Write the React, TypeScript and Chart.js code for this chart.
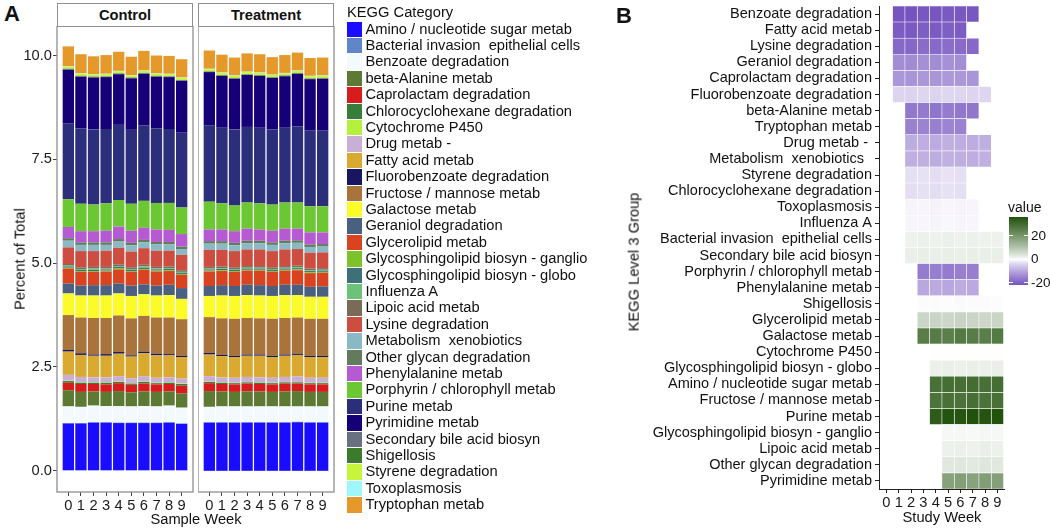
import React, { useEffect, useRef } from "react";
import { Chart, registerables } from "chart.js";

Chart.register(...registerables);

const FONT = '"Liberation Sans", Arial, Helvetica, sans-serif';

const weeks = [0, 1, 2, 3, 4, 5, 6, 7, 8, 9];
const yTicks = [0, 2.5, 5, 7.5, 10];

const categories = [
  "Amino / nucleotide sugar metab",
  "Bacterial invasion  epithelial cells",
  "Benzoate degradation",
  "beta-Alanine metab",
  "Caprolactam degradation",
  "Chlorocyclohexane degradation",
  "Cytochrome P450",
  "Drug metab - ",
  "Fatty acid metab",
  "Fluorobenzoate degradation",
  "Fructose / mannose metab",
  "Galactose metab",
  "Geraniol degradation",
  "Glycerolipid metab",
  "Glycosphingolipid biosyn - ganglio",
  "Glycosphingolipid biosyn - globo",
  "Influenza A",
  "Lipoic acid metab",
  "Lysine degradation",
  "Metabolism  xenobiotics  ",
  "Other glycan degradation",
  "Phenylalanine metab",
  "Porphyrin / chlorophyll metab",
  "Purine metab",
  "Pyrimidine metab",
  "Secondary bile acid biosyn",
  "Shigellosis",
  "Styrene degradation",
  "Toxoplasmosis",
  "Tryptophan metab",
];

const categoryColors = [
  "#1a0dff", "#5f86c8", "#f2fafd", "#5d7a35", "#d81b1b", "#387d3a",
  "#b5f03c", "#c9afd6", "#daaa30", "#191660", "#a9743b", "#fbfb2a",
  "#4a6080", "#d9431f", "#7cc22b", "#3d7079", "#6dc27a", "#7a6b56",
  "#cd4e40", "#8ab9c6", "#637a5c", "#b55ad2", "#6bc832", "#2b2e7a",
  "#150078", "#687082", "#3c7a2c", "#c6f53c", "#9ef8fa", "#e6992b",
];

// Percent of total per category (legend order), weeks 0..9
const controlValues = [
  [1.14, 1.14, 1.16, 1.16, 1.15, 1.15, 1.15, 1.15, 1.16, 1.13],
  [0.01, 0.01, 0.01, 0.01, 0.01, 0.01, 0.01, 0.01, 0.01, 0.01],
  [0.40, 0.39, 0.40, 0.39, 0.40, 0.39, 0.40, 0.39, 0.40, 0.38],
  [0.39, 0.36, 0.34, 0.34, 0.36, 0.34, 0.35, 0.35, 0.34, 0.34],
  [0.18, 0.19, 0.18, 0.18, 0.19, 0.18, 0.19, 0.18, 0.18, 0.19],
  [0.04, 0.03, 0.03, 0.04, 0.03, 0.03, 0.04, 0.03, 0.03, 0.04],
  [0.01, 0.01, 0.01, 0.01, 0.01, 0.01, 0.01, 0.01, 0.01, 0.01],
  [0.14, 0.13, 0.12, 0.12, 0.13, 0.12, 0.13, 0.12, 0.12, 0.12],
  [0.56, 0.53, 0.52, 0.52, 0.54, 0.52, 0.55, 0.54, 0.53, 0.52],
  [0.04, 0.04, 0.03, 0.04, 0.04, 0.03, 0.04, 0.04, 0.03, 0.03],
  [0.84, 0.86, 0.88, 0.87, 0.88, 0.89, 0.86, 0.87, 0.88, 0.88],
  [0.52, 0.53, 0.54, 0.54, 0.53, 0.54, 0.52, 0.53, 0.54, 0.49],
  [0.24, 0.24, 0.25, 0.25, 0.24, 0.25, 0.24, 0.24, 0.25, 0.26],
  [0.36, 0.33, 0.32, 0.33, 0.34, 0.33, 0.35, 0.34, 0.33, 0.32],
  [0.02, 0.02, 0.02, 0.02, 0.03, 0.02, 0.02, 0.02, 0.02, 0.02],
  [0.03, 0.03, 0.03, 0.03, 0.03, 0.03, 0.03, 0.03, 0.03, 0.03],
  [0.02, 0.02, 0.03, 0.02, 0.02, 0.02, 0.03, 0.02, 0.02, 0.02],
  [0.04, 0.04, 0.04, 0.04, 0.04, 0.04, 0.04, 0.04, 0.04, 0.04],
  [0.40, 0.39, 0.38, 0.39, 0.40, 0.38, 0.40, 0.39, 0.38, 0.37],
  [0.16, 0.15, 0.15, 0.14, 0.15, 0.15, 0.14, 0.15, 0.15, 0.14],
  [0.06, 0.06, 0.06, 0.06, 0.06, 0.06, 0.06, 0.06, 0.06, 0.06],
  [0.27, 0.27, 0.27, 0.28, 0.30, 0.29, 0.29, 0.30, 0.29, 0.30],
  [0.67, 0.66, 0.64, 0.66, 0.64, 0.65, 0.65, 0.64, 0.65, 0.64],
  [1.83, 1.81, 1.81, 1.79, 1.81, 1.78, 1.82, 1.80, 1.78, 1.80],
  [1.29, 1.25, 1.25, 1.25, 1.22, 1.24, 1.24, 1.24, 1.25, 1.25],
  [0.01, 0.01, 0.01, 0.01, 0.01, 0.01, 0.01, 0.01, 0.01, 0.01],
  [0.01, 0.01, 0.01, 0.01, 0.01, 0.01, 0.01, 0.01, 0.01, 0.01],
  [0.05, 0.05, 0.05, 0.05, 0.05, 0.05, 0.05, 0.05, 0.05, 0.05],
  [0.01, 0.01, 0.01, 0.01, 0.01, 0.01, 0.01, 0.01, 0.01, 0.01],
  [0.48, 0.46, 0.43, 0.45, 0.46, 0.44, 0.47, 0.43, 0.43, 0.44],
];

const treatmentValues = [
  [1.16, 1.16, 1.16, 1.16, 1.16, 1.16, 1.16, 1.17, 1.16, 1.16],
  [0.01, 0.01, 0.01, 0.01, 0.01, 0.01, 0.01, 0.01, 0.01, 0.01],
  [0.37, 0.38, 0.38, 0.38, 0.38, 0.38, 0.38, 0.37, 0.38, 0.38],
  [0.38, 0.36, 0.35, 0.36, 0.36, 0.35, 0.36, 0.37, 0.35, 0.35],
  [0.19, 0.18, 0.18, 0.19, 0.18, 0.18, 0.19, 0.18, 0.18, 0.18],
  [0.03, 0.03, 0.03, 0.03, 0.03, 0.03, 0.03, 0.03, 0.03, 0.03],
  [0.01, 0.01, 0.01, 0.01, 0.01, 0.01, 0.01, 0.01, 0.01, 0.01],
  [0.13, 0.12, 0.12, 0.12, 0.12, 0.12, 0.12, 0.13, 0.12, 0.12],
  [0.52, 0.51, 0.50, 0.51, 0.52, 0.50, 0.51, 0.52, 0.50, 0.50],
  [0.04, 0.03, 0.03, 0.03, 0.03, 0.03, 0.03, 0.03, 0.03, 0.03],
  [0.86, 0.88, 0.89, 0.88, 0.87, 0.89, 0.88, 0.87, 0.89, 0.89],
  [0.51, 0.55, 0.55, 0.55, 0.55, 0.55, 0.55, 0.54, 0.53, 0.53],
  [0.24, 0.25, 0.24, 0.25, 0.25, 0.24, 0.25, 0.25, 0.24, 0.25],
  [0.35, 0.34, 0.34, 0.34, 0.35, 0.34, 0.34, 0.35, 0.33, 0.33],
  [0.02, 0.02, 0.02, 0.02, 0.02, 0.02, 0.02, 0.02, 0.02, 0.02],
  [0.03, 0.03, 0.03, 0.03, 0.03, 0.03, 0.03, 0.03, 0.03, 0.03],
  [0.02, 0.02, 0.02, 0.02, 0.02, 0.02, 0.02, 0.02, 0.02, 0.02],
  [0.04, 0.04, 0.04, 0.04, 0.04, 0.04, 0.04, 0.04, 0.04, 0.04],
  [0.41, 0.40, 0.39, 0.40, 0.40, 0.39, 0.40, 0.40, 0.38, 0.38],
  [0.15, 0.15, 0.14, 0.15, 0.15, 0.15, 0.15, 0.15, 0.14, 0.14],
  [0.06, 0.06, 0.06, 0.06, 0.06, 0.06, 0.06, 0.06, 0.06, 0.06],
  [0.28, 0.28, 0.28, 0.29, 0.27, 0.28, 0.29, 0.28, 0.29, 0.28],
  [0.67, 0.63, 0.62, 0.63, 0.63, 0.63, 0.63, 0.63, 0.63, 0.63],
  [1.83, 1.82, 1.83, 1.82, 1.82, 1.81, 1.80, 1.83, 1.82, 1.82],
  [1.29, 1.25, 1.22, 1.25, 1.25, 1.24, 1.24, 1.27, 1.24, 1.25],
  [0.01, 0.01, 0.01, 0.01, 0.01, 0.01, 0.01, 0.01, 0.01, 0.01],
  [0.01, 0.01, 0.01, 0.01, 0.01, 0.01, 0.01, 0.01, 0.01, 0.01],
  [0.05, 0.05, 0.05, 0.05, 0.05, 0.05, 0.05, 0.05, 0.05, 0.05],
  [0.01, 0.01, 0.01, 0.01, 0.01, 0.01, 0.01, 0.01, 0.01, 0.01],
  [0.44, 0.43, 0.43, 0.44, 0.44, 0.42, 0.43, 0.43, 0.43, 0.43],
];

const heatRows = [
  "Benzoate degradation",
  "Fatty acid metab",
  "Lysine degradation",
  "Geraniol degradation",
  "Caprolactam degradation",
  "Fluorobenzoate degradation",
  "beta-Alanine metab",
  "Tryptophan metab",
  "Drug metab - ",
  "Metabolism  xenobiotics  ",
  "Styrene degradation",
  "Chlorocyclohexane degradation",
  "Toxoplasmosis",
  "Influenza A",
  "Bacterial invasion  epithelial cells",
  "Secondary bile acid biosyn",
  "Porphyrin / chlorophyll metab",
  "Phenylalanine metab",
  "Shigellosis",
  "Glycerolipid metab",
  "Galactose metab",
  "Cytochrome P450",
  "Glycosphingolipid biosyn - globo",
  "Amino / nucleotide sugar metab",
  "Fructose / mannose metab",
  "Purine metab",
  "Glycosphingolipid biosyn - ganglio",
  "Lipoic acid metab",
  "Other glycan degradation",
  "Pyrimidine metab",
];

const _ = null;
// value per row, weeks 0..9 (null = no tile)
const heatValues: (number | null)[][] = [
  [_, -21.5, -21.7, -21.2, -21.4, -20.8, -21.0, -21.3, _, _],
  [_, -20.5, -20.8, -20.2, -20.6, -20.0, -20.4, _, _, _],
  [_, -18.6, -18.9, -18.2, -18.5, -18.0, -18.3, -18.7, _, _],
  [_, -13.5, -13.8, -13.2, -13.6, -13.0, -13.4, _, _, _],
  [_, -12.2, -12.5, -11.9, -12.3, -11.8, -12.0, -12.4, _, _],
  [_, -4.2, -4.4, -4.0, -4.3, -3.9, -4.1, -4.2, -4.0, _],
  [_, _, -16.5, -16.2, -16.8, -16.0, -16.4, -16.6, _, _],
  [_, _, -15.2, -14.9, -15.4, -14.7, -15.0, _, _, _],
  [_, _, -9.2, -9.0, -9.4, -8.8, -9.1, -9.3, -8.9, _],
  [_, _, -9.0, -8.8, -9.2, -8.6, -8.9, -9.1, -8.7, _],
  [_, _, -3.0, -2.8, -3.2, -2.7, -3.0, _, _, _],
  [_, _, -3.1, -2.9, -3.3, -2.8, -3.0, _, _, _],
  [_, _, -0.9, -0.8, -1.0, -0.7, -0.9, -0.8, _, _],
  [_, _, -0.8, -0.7, -0.9, -0.6, -0.8, -0.7, _, _],
  [_, _, 1.8, 1.9, 1.7, 2.0, 1.8, 1.9, 1.7, 1.8],
  [_, _, 2.2, 2.3, 2.1, 2.4, 2.2, 2.3, 2.1, 2.2],
  [_, _, _, -15.8, -15.5, -16.0, -15.3, -15.6, _, _],
  [_, _, _, -9.8, -9.5, -10.0, -9.3, -9.6, _, _],
  [_, _, _, 0.4, 0.4, 0.3, 0.5, 0.4, 0.4, 0.3],
  [_, _, _, 6.5, 6.8, 6.3, 6.9, 6.6, 6.4, 6.7],
  [_, _, _, 25.5, 26.0, 25.2, 26.3, 25.8, 25.4, 26.1],
  [_, _, _, _, 0.1, 0.1, 0.1, 0.1, 0.1, 0.1],
  [_, _, _, _, 2.0, 2.1, 1.9, 2.2, 2.0, 2.1],
  [_, _, _, _, 28.5, 29.0, 28.8, 29.3, 28.6, 29.1],
  [_, _, _, _, 28.0, 28.4, 28.2, 28.8, 28.1, 28.5],
  [_, _, _, _, 33.5, 35.2, 35.0, 35.8, 35.3, 35.6],
  [_, _, _, _, _, 0.8, 0.9, 0.7, 0.9, 0.8],
  [_, _, _, _, _, 1.9, 2.0, 1.8, 2.1, 1.9],
  [_, _, _, _, _, 3.3, 3.5, 3.2, 3.6, 3.4],
  [_, _, _, _, _, 17.5, 18.0, 17.3, 18.2, 17.8],
];

const colorbarTicks = [20, 0, -20];
const HEAT_MIN = -21.7;
const HEAT_MAX = 35.8;
const LOW_RGB = [117, 84, 191];
const HIGH_RGB = [33, 82, 12];

function heatColor(v: number): string {
  const target = v >= 0 ? HIGH_RGB : LOW_RGB;
  const lim = v >= 0 ? HEAT_MAX : -HEAT_MIN;
  const t = Math.pow(Math.min(Math.abs(v) / lim, 1), 0.85);
  const c = target.map((ch) => Math.round(255 + (ch - 255) * t));
  return `rgb(${c[0]},${c[1]},${c[2]})`;
}

const panelBorder = {
  id: "panelBorder",
  afterDatasetsDraw(chart: any) {
    const { ctx, chartArea: a } = chart;
    ctx.save();
    ctx.strokeStyle = "#8f8f8f";
    ctx.lineWidth = 1.3;
    ctx.strokeRect(a.left, a.top, a.right - a.left, a.bottom - a.top);
    ctx.restore();
  },
};

function stackedConfig(values: number[][], showY: boolean): any {
  return {
    type: "bar",
    data: {
      datasets: categories.map((name, i) => ({
        label: name,
        data: weeks.map((w, j) => ({ x: w, y: values[i][j] })),
        backgroundColor: categoryColors[i],
        borderWidth: 0,
        barPercentage: 0.9,
        categoryPercentage: 1,
      })),
    },
    options: {
      animation: false,
      responsive: false,
      maintainAspectRatio: false,
      layout: { padding: { left: 0, right: 1, top: 0, bottom: 0 } },
      plugins: { legend: { display: false }, tooltip: { enabled: false } },
      scales: {
        x: {
          type: "linear",
          stacked: true,
          min: -0.9,
          max: 9.9,
          offset: false,
          afterBuildTicks: (s: any) => {
            s.ticks = weeks.map((v) => ({ value: v }));
          },
          ticks: {
            font: { family: FONT, size: 14.7 },
            color: "#1a1a1a",
            padding: 1,
            maxRotation: 0,
            autoSkip: false,
            callback: (v: any) => String(v),
          },
          grid: {
            display: true,
            drawOnChartArea: false,
            drawTicks: true,
            tickLength: 4,
            color: "#444",
            offset: false,
          },
          border: { display: false },
          afterFit: (s: any) => {
            s.height = 38;
            s.paddingLeft = 0;
            s.paddingRight = 0;
          },
        },
        y: {
          display: showY,
          stacked: true,
          min: -0.51,
          max: 10.71,
          afterBuildTicks: (s: any) => {
            s.ticks = yTicks.map((v) => ({ value: v }));
          },
          ticks: {
            font: { family: FONT, size: 14.7 },
            color: "#1a1a1a",
            padding: 1,
            callback: (v: any) => Number(v).toFixed(1),
          },
          grid: {
            display: true,
            drawOnChartArea: false,
            drawTicks: true,
            tickLength: 4,
            color: "#444",
          },
          border: { display: false },
          afterFit: (s: any) => {
            s.width = showY ? 57 : 0;
            s.paddingTop = 0;
            s.paddingBottom = 0;
          },
        },
      },
    },
    plugins: [panelBorder],
  };
}

function heatConfig(): any {
  return {
    type: "bar",
    data: {
      labels: heatRows,
      datasets: weeks.map((w) => ({
        label: "week " + w,
        data: heatValues.map((row) => (row[w] == null ? null : [w - 0.5, w + 0.5])),
        backgroundColor: heatValues.map((row) =>
          row[w] == null ? "rgba(0,0,0,0)" : heatColor(row[w] as number)
        ),
        borderColor: "#ffffff",
        borderWidth: 0.6,
        borderSkipped: false,
        grouped: false,
        barPercentage: 1,
        categoryPercentage: 1,
      })),
    },
    options: {
      indexAxis: "y",
      animation: false,
      responsive: false,
      maintainAspectRatio: false,
      layout: { padding: { left: 0, right: 5.2, top: 6, bottom: 0 } },
      plugins: { legend: { display: false }, tooltip: { enabled: false } },
      scales: {
        x: {
          type: "linear",
          min: -0.6,
          max: 9.6,
          afterBuildTicks: (s: any) => {
            s.ticks = weeks.map((v) => ({ value: v }));
          },
          ticks: {
            font: { family: FONT, size: 14.7 },
            color: "#1a1a1a",
            padding: 1,
            maxRotation: 0,
            autoSkip: false,
            callback: (v: any) => String(v),
          },
          grid: { drawOnChartArea: false, drawTicks: true, tickLength: 4, color: "#222" },
          border: { display: true, color: "#222", width: 1 },
          afterFit: (s: any) => {
            s.height = 41;
            s.paddingLeft = 0;
            s.paddingRight = 0;
          },
        },
        y: {
          type: "category",
          ticks: {
            font: { family: FONT, size: 14.5 },
            color: "#111",
            padding: 3,
            autoSkip: false,
          },
          grid: { drawOnChartArea: false, drawTicks: true, tickLength: 4, color: "#222", offset: false },
          border: { display: true, color: "#222", width: 1 },
          afterFit: (s: any) => {
            s.width = 319;
            s.paddingTop = 0;
            s.paddingBottom = 0;
          },
        },
      },
    },
  };
}

function Txt(props: {
  x: number;
  y: number;
  size: number;
  bold?: boolean;
  align?: "left" | "center";
  rotate?: boolean;
  children: React.ReactNode;
}) {
  const { x, y, size, bold, align = "left", rotate, children } = props;
  const tx = align === "center" ? "-50%" : "0";
  return (
    <div
      style={{
        position: "absolute",
        left: x,
        top: y,
        fontSize: size,
        fontWeight: bold ? 700 : 400,
        lineHeight: 1,
        whiteSpace: "pre",
        color: "#111",
        transform: `translate(${tx}, -50%)${rotate ? " rotate(-90deg)" : ""}`,
        transformOrigin: rotate ? "center center" : undefined,
      }}
    >
      {children}
    </div>
  );
}

export default function App() {
  const cRef = useRef<HTMLCanvasElement>(null);
  const tRef = useRef<HTMLCanvasElement>(null);
  const hRef = useRef<HTMLCanvasElement>(null);

  useEffect(() => {
    const charts: Chart[] = [];
    if (cRef.current) charts.push(new Chart(cRef.current, stackedConfig(controlValues, true)));
    if (tRef.current) charts.push(new Chart(tRef.current, stackedConfig(treatmentValues, false)));
    if (hRef.current) charts.push(new Chart(hRef.current, heatConfig()));
    return () => charts.forEach((c) => c.destroy());
  }, []);

  const cbTop = 217;
  const cbH = 68;
  const cbY = (v: number) => cbTop + ((HEAT_MAX - v) / (HEAT_MAX - HEAT_MIN)) * cbH;
  const stops: string[] = [];
  for (let k = 0; k <= 24; k++) {
    const v = HEAT_MAX - (k * (HEAT_MAX - HEAT_MIN)) / 24;
    stops.push(`${heatColor(v)} ${((k / 24) * 100).toFixed(1)}%`);
  }

  const stripStyle = (left: number): React.CSSProperties => ({
    position: "absolute",
    left,
    top: 3,
    width: 136,
    height: 23.6,
    boxSizing: "border-box",
    border: "1.3px solid #8f8f8f",
    background: "#fff",
    display: "flex",
    alignItems: "center",
    justifyContent: "center",
    fontWeight: 700,
    fontSize: 14.7,
    color: "#111",
  });

  return (
    <div
      style={{
        position: "fixed",
        left: 0,
        top: 0,
        width: 1050,
        height: 530,
        background: "#fff",
        fontFamily: FONT,
        overflow: "hidden",
      }}
    >
      <canvas
        ref={cRef}
        width={194}
        height={504}
        style={{ position: "absolute", left: 0, top: 26, width: 194, height: 504 }}
      />
      <canvas
        ref={tRef}
        width={137}
        height={504}
        style={{ position: "absolute", left: 198, top: 26, width: 137, height: 504 }}
      />
      <canvas
        ref={hRef}
        width={450}
        height={530}
        style={{ position: "absolute", left: 560, top: 0, width: 450, height: 530 }}
      />

      <div style={stripStyle(57)}>Control</div>
      <div style={stripStyle(198)}>Treatment</div>

      <Txt x={4} y={14} size={22} bold>A</Txt>
      <Txt x={616} y={16} size={22} bold>B</Txt>

      <Txt x={20} y={259} size={14.7} align="center" rotate>Percent of Total</Txt>
      <Txt x={196} y={519} size={14.7} align="center">Sample Week</Txt>

      <Txt x={347} y={12} size={14.7}>KEGG Category</Txt>
      {categories.map((c, i) => (
        <div
          key={c}
          style={{
            position: "absolute",
            left: 347,
            top: 21.6 + 16.4 * i,
            height: 15.4,
            display: "flex",
            alignItems: "center",
          }}
        >
          <div style={{ width: 15.4, height: 15.4, background: categoryColors[i] }} />
          <span style={{ marginLeft: 3, fontSize: 14.7, whiteSpace: "pre", lineHeight: "15.4px", color: "#111" }}>
            {c.trimEnd()}
          </span>
        </div>
      ))}

      <Txt x={634} y={262} size={14.7} align="center" rotate>KEGG Level 3 Group</Txt>
      <Txt x={942} y={517} size={14.7} align="center">Study Week</Txt>

      <Txt x={1008} y={207} size={14}>value</Txt>
      <div
        style={{
          position: "absolute",
          left: 1009,
          top: cbTop,
          width: 19,
          height: cbH,
          background: `linear-gradient(to bottom, ${stops.join(", ")})`,
        }}
      />
      {colorbarTicks.map((t) => (
        <React.Fragment key={t}>
          <div style={{ position: "absolute", left: 1009, top: cbY(t) - 0.5, width: 4, height: 1, background: "#fff" }} />
          <div style={{ position: "absolute", left: 1024, top: cbY(t) - 0.5, width: 4, height: 1, background: "#fff" }} />
          <Txt x={1031} y={cbY(t)} size={13.5}>{String(t)}</Txt>
        </React.Fragment>
      ))}
    </div>
  );
}
